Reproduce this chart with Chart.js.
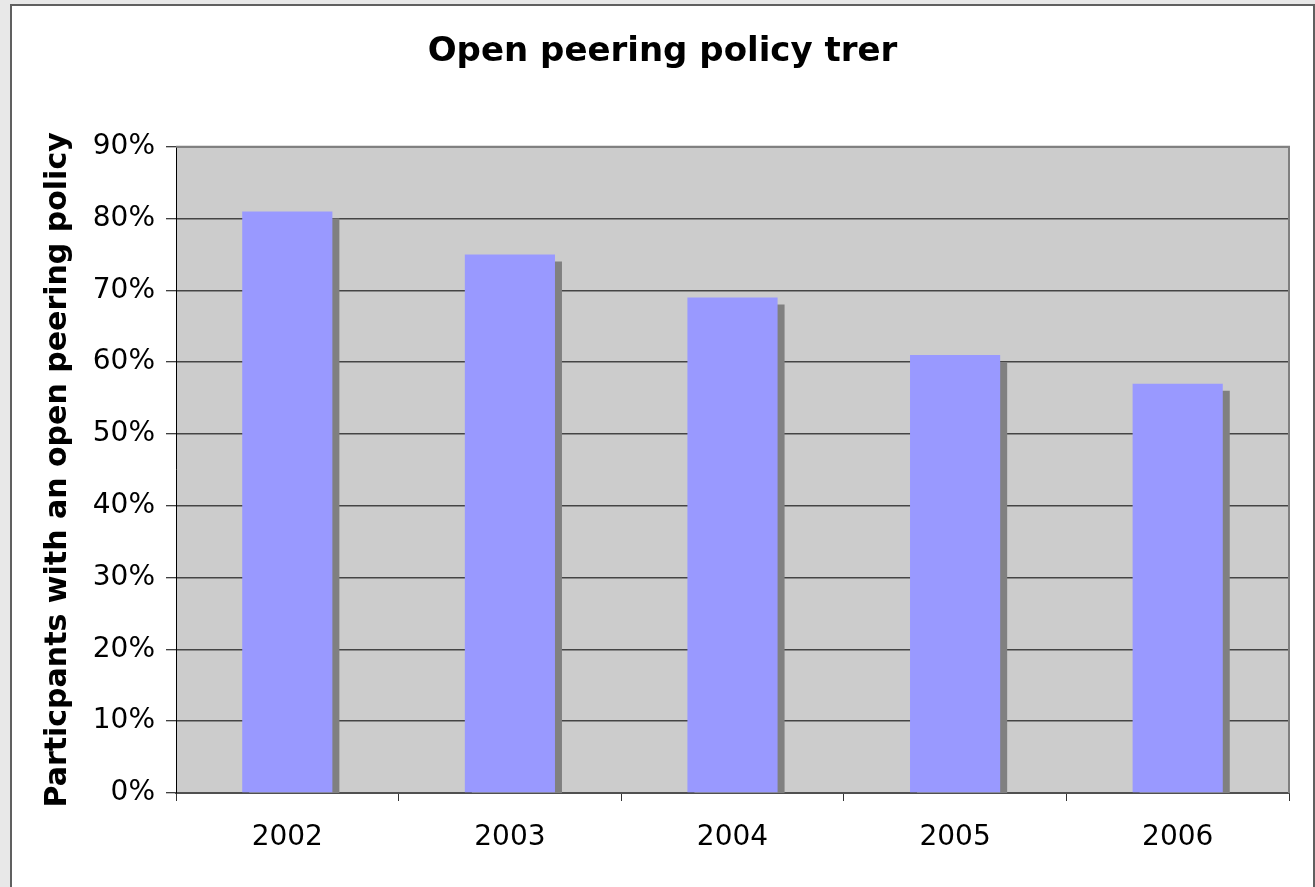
<!DOCTYPE html>
<html>
<head>
<meta charset="utf-8">
<script src="https://cdn.jsdelivr.net/npm/chart.js@4.4.1/dist/chart.umd.min.js"></script>
<style>
  html, body { margin:0; padding:0; background:#e8e8e8; }
  #box { position:absolute; left:10px; top:4px; width:1301px; height:900px;
         background:#fff; border:2px solid #606060; border-bottom:none; box-sizing:content-box; }
  #chart { position:absolute; left:0; top:0; }
</style>
</head>
<body>
<div id="box"></div>
<canvas id="chart" width="1315" height="887"></canvas>
<script>
const years = ["2002","2003","2004","2005","2006"];
const openPolicy = [81, 75, 69, 61, 57];   // % of participants
const yTicks = [0,10,20,30,40,50,60,70,80,90];

const font = "'DejaVu Sans', Verdana, sans-serif";

// grey plot area + frame on top/right
const plotBg = {
  id:"plotBg",
  beforeDraw(ch){
    let a = ch.chartArea, c = ch.ctx;
    c.save(); c.fillStyle = "#cccccc";
    c.fillRect(a.left, a.top, a.right-a.left, a.bottom-a.top);
    c.restore();
  },
  afterDraw(ch){
    let a = ch.chartArea, c = ch.ctx;
    c.save(); c.strokeStyle = "#808080"; c.lineWidth = 2;
    c.beginPath();
    c.moveTo(a.left, a.top); c.lineTo(a.right, a.top); c.lineTo(a.right, a.bottom);
    c.stroke(); c.restore();
  }
};

// hard drop shadow behind the bars
const barShadow = {
  id:"barShadow",
  beforeDatasetsDraw(ch){
    let a = ch.chartArea, c = ch.ctx;
    c.save();
    c.beginPath(); c.rect(a.left, a.top, a.right-a.left, a.bottom-a.top); c.clip();
    c.shadowColor = "#808080"; c.shadowBlur = 0;
    c.shadowOffsetX = 7; c.shadowOffsetY = 7;
  },
  afterDatasetsDraw(ch){ ch.ctx.restore(); }
};

new Chart(document.getElementById("chart").getContext("2d"), {
  type:"bar",
  data:{
    labels: years,
    datasets:[{ label:"Open policy", data: openPolicy, backgroundColor:"#9999ff",
      borderWidth:0, categoryPercentage:1, barPercentage:0.405 }]
  },
  options:{
    responsive:false, animation:false,
    layout:{ padding:{ left:10, right:0, top:0, bottom:0 } },
    plugins:{
      legend:{ display:false }, tooltip:{ enabled:false },
      title:{ display:true, text:"Open peering policy trer", color:"#000",
        font:{ family:font, size:34, weight:"bold" }, padding:{ top:32, bottom:74 } }
    },
    scales:{
      x:{
        offset:true,
        grid:{ display:true, drawOnChartArea:false, drawTicks:true, tickLength:8, color:"#333", lineWidth:1, offset:true },
        border:{ display:true, color:"#505050", width:2 },
        ticks:{ color:"#000", font:{ family:font, size:28 }, padding:20 },
        afterFit: s => { s.height = 94; }
      },
      y:{
        min:0, max:90,
        afterBuildTicks: s => { s.ticks = yTicks.map(v => ({ value:v })); },
        grid:{ color:"#444", lineWidth:1.5, tickLength:10, tickColor:"#000", tickWidth:1 },
        border:{ display:true, color:"#000", width:1 },
        ticks:{ color:"#000", font:{ family:font, size:28 }, padding:11, callback: v => v + "%" },
        title:{ display:true, text:"Particpants with an open peering policy", color:"#000",
          font:{ family:font, size:30, weight:"bold" }, padding:{ top:30, bottom:0 } },
        afterFit: s => { s.width = 166; }
      },
      y2:{
        position:"right", display:true,
        grid:{ display:false }, border:{ display:false }, ticks:{ display:false },
        afterFit: s => { s.width = 26; }
      }
    }
  },
  plugins:[plotBg, barShadow]
});
</script>
</body>
</html>
